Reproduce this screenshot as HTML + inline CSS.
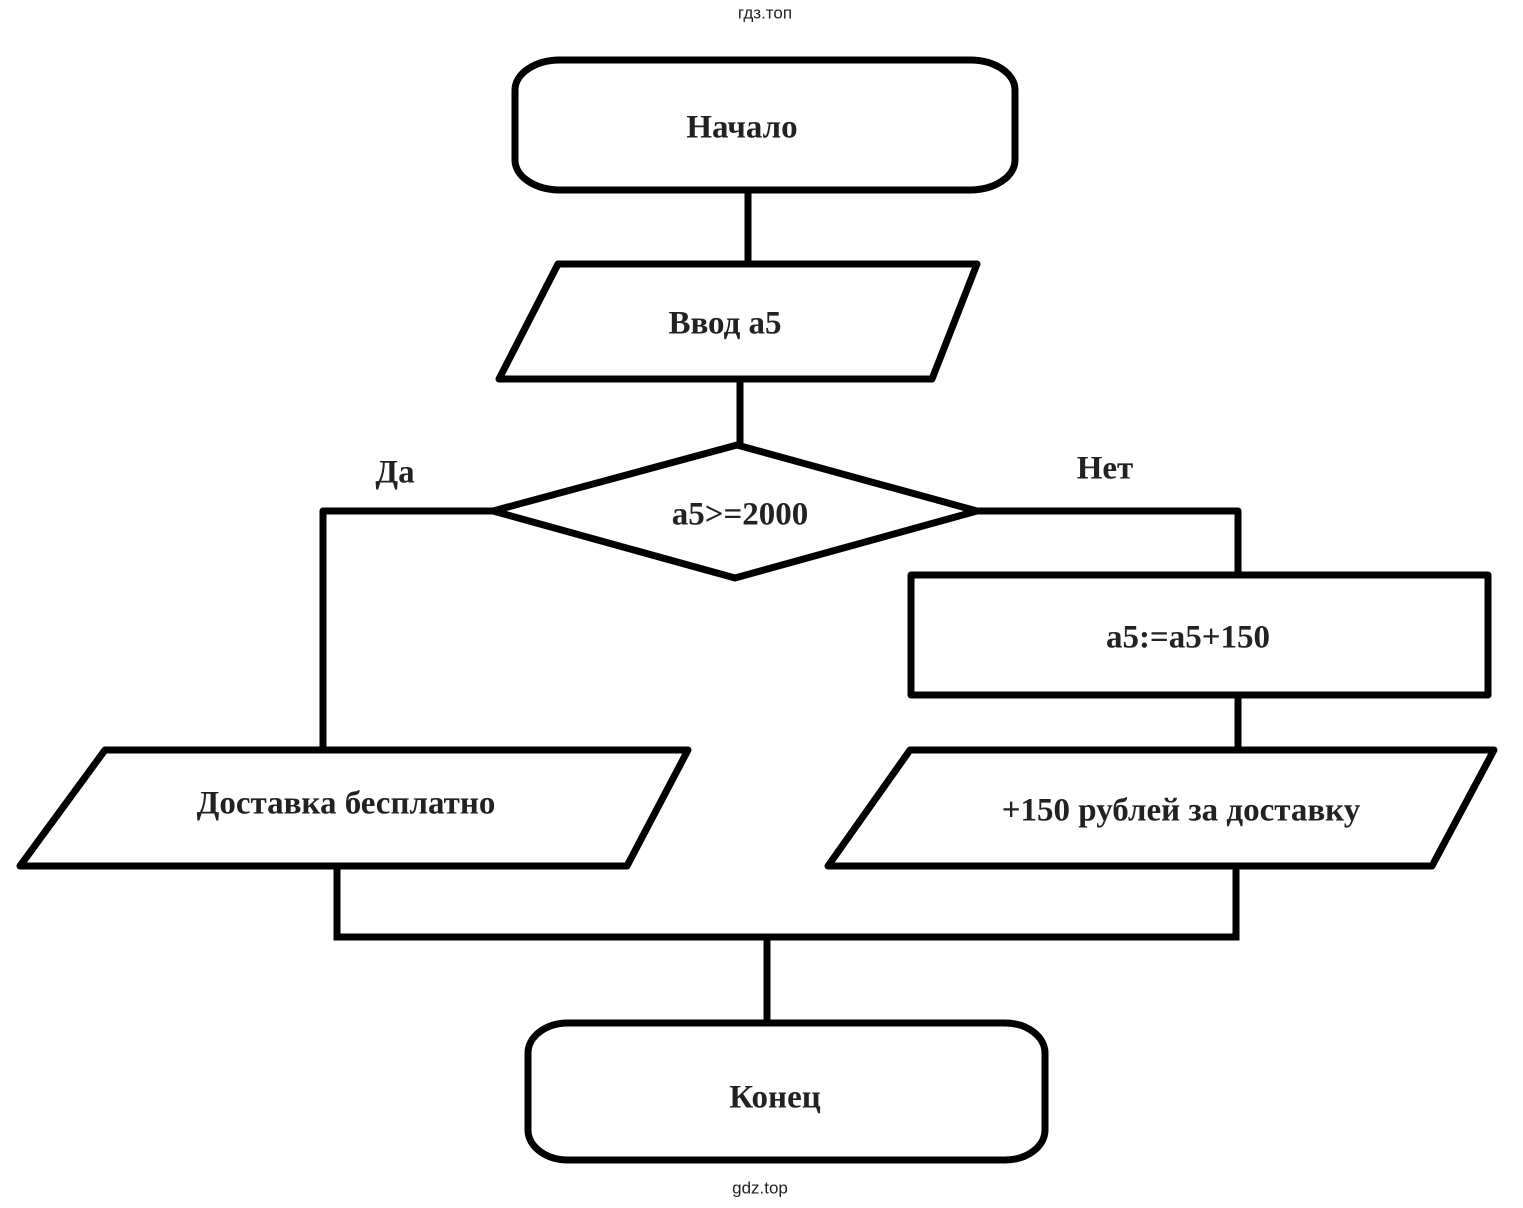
<!DOCTYPE html>
<html><head><meta charset="utf-8"><style>
html,body{margin:0;padding:0;background:#fff;width:1523px;height:1208px;overflow:hidden}
svg{display:block}
.t{font-family:"Liberation Serif",serif;font-weight:bold;font-size:33px;fill:#222;text-anchor:middle;dominant-baseline:middle}
.s{font-family:"Liberation Sans",sans-serif;font-size:17px;fill:#222;text-anchor:middle;dominant-baseline:middle}
</style></head><body>
<svg width="1523" height="1208" viewBox="0 0 1523 1208">
<g fill="none" stroke="#000" stroke-width="7" stroke-linejoin="round" stroke-linecap="square">
<rect x="515" y="60" width="500" height="130" rx="45" ry="30"/>
<line x1="748" y1="190" x2="748" y2="263"/>
<polygon points="558,264 977,264 932,379 499,379"/>
<line x1="740" y1="379" x2="740" y2="445"/>
<polygon points="737,445 977,511 735,578 493,511"/>
<polyline points="493,511 323,511 323,750"/>
<polyline points="977,511 1238,511 1238,575"/>
<rect x="911" y="575" width="577" height="120"/>
<line x1="1238" y1="695" x2="1238" y2="750"/>
<polygon points="105,750 688,750 627,866 20,866"/>
<polygon points="910,750 1494,750 1432,866 828,866"/>
<line x1="337" y1="866" x2="337" y2="937"/>
<line x1="1236" y1="866" x2="1236" y2="937"/>
<line x1="337" y1="937" x2="1236" y2="937"/>
<line x1="767" y1="937" x2="767" y2="1023"/>
<rect x="528" y="1023" width="517" height="137" rx="40" ry="30"/>
</g>
<text class="s" x="765" y="14">гдз.топ</text>
<text class="s" x="760" y="1189">gdz.top</text>
<text class="t" x="742" y="130">Начало</text>
<text class="t" x="725" y="326">Ввод а5</text>
<text class="t" x="740" y="517">а5&gt;=2000</text>
<text class="t" x="395" y="475">Да</text>
<text class="t" x="1105" y="471">Нет</text>
<text class="t" x="1188" y="640">а5:=а5+150</text>
<text class="t" x="346" y="806">Доставка бесплатно</text>
<text class="t" x="1181" y="813">+150 рублей за доставку</text>
<text class="t" x="775" y="1100">Конец</text>
</svg>
</body></html>
